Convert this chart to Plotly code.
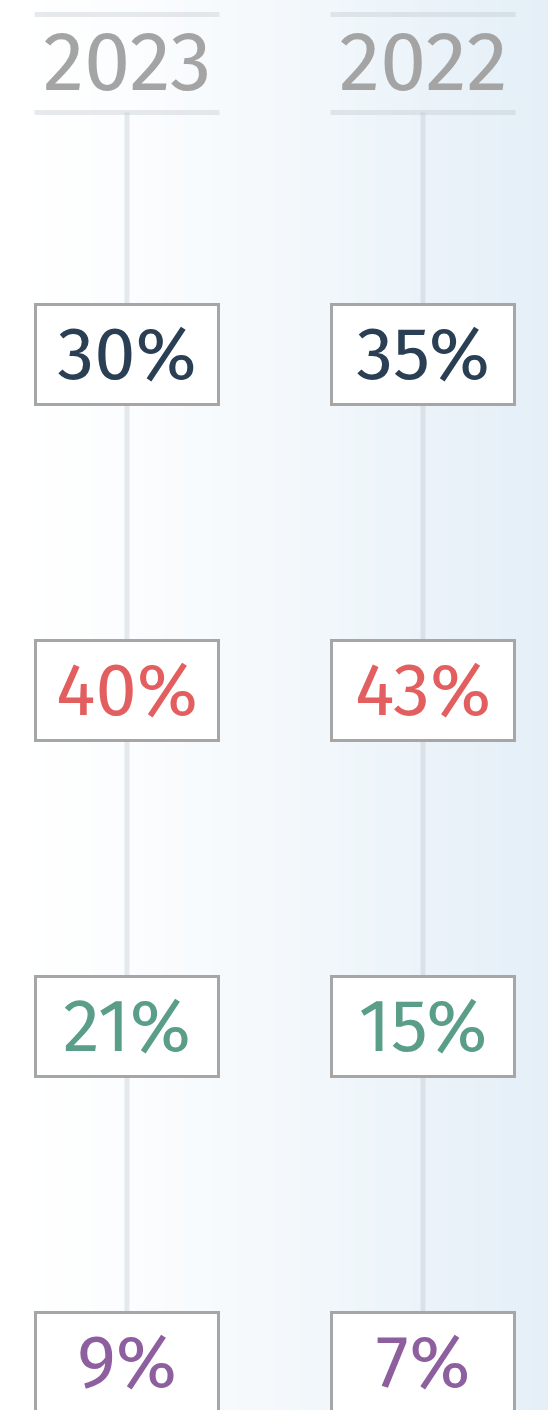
import plotly.graph_objects as go

years = ["2023", "2022"]
series_2023 = [30, 40, 21, 9]
series_2022 = [35, 43, 15, 7]
row_colors = ["#2b3f54", "#e35f5f", "#5a9e8a", "#8e5f9e"]

W, H = 548, 1410
FONT = "Fira Sans, Open Sans, Noto Sans, sans-serif"

fig = go.Figure()

# background gradient (white -> light blue), paper coords
N = 60
c0 = (255, 255, 255)
c1 = (228, 239, 247)
for i in range(N):
    t = (i / (N - 1)) ** 1.3
    col = tuple(round(c0[k] + (c1[k] - c0[k]) * t) for k in range(3))
    fig.add_shape(type="rect", xref="paper", yref="paper",
                  x0=i / N, x1=(i + 1) / N + 0.002, y0=0, y1=1,
                  fillcolor="rgb(%d,%d,%d)" % col, line_width=0, layer="below")

values = [series_2023, series_2022]
line_col = "rgba(185,192,198,0.34)"
header_top = -1.0104
header_bot = -0.7188
header_txt = -0.868
for ci, yr in enumerate(years):
    fig.add_trace(go.Scatter(x=[ci, ci], y=[header_bot, 3.2], mode="lines",
                             line=dict(color=line_col, width=5),
                             hoverinfo="skip", showlegend=False))
    for yy in (header_top, header_bot):
        fig.add_trace(go.Scatter(x=[ci - 0.3125, ci + 0.3125], y=[yy, yy], mode="lines",
                                 line=dict(color=line_col, width=5),
                                 hoverinfo="skip", showlegend=False))
    fig.add_annotation(x=ci, y=header_txt, text=yr, showarrow=False,
                       font=dict(family=FONT, size=83, color="#a4a4a4"))
    for ri, v in enumerate(values[ci]):
        fig.add_annotation(x=ci, y=ri, text="%d%%" % v, showarrow=False,
                           width=180, height=97, borderpad=0, borderwidth=3,
                           bordercolor="#a6a6a6", bgcolor="#ffffff",
                           font=dict(family=FONT, size=74, color=row_colors[ri]))

fig.update_layout(
    width=W, height=H,
    margin=dict(l=0, r=0, t=0, b=0),
    paper_bgcolor="white", plot_bgcolor="rgba(0,0,0,0)",
    showlegend=False,
    xaxis=dict(range=[-127 / 296, (W - 127) / 296], visible=False, fixedrange=True),
    yaxis=dict(range=[(H - 354) / 336, -354 / 336], visible=False, fixedrange=True),
)

fig.write_html("out.html", config={"displayModeBar": False},
               post_script="document.body.style.margin='0px';document.body.style.overflow='hidden';")
